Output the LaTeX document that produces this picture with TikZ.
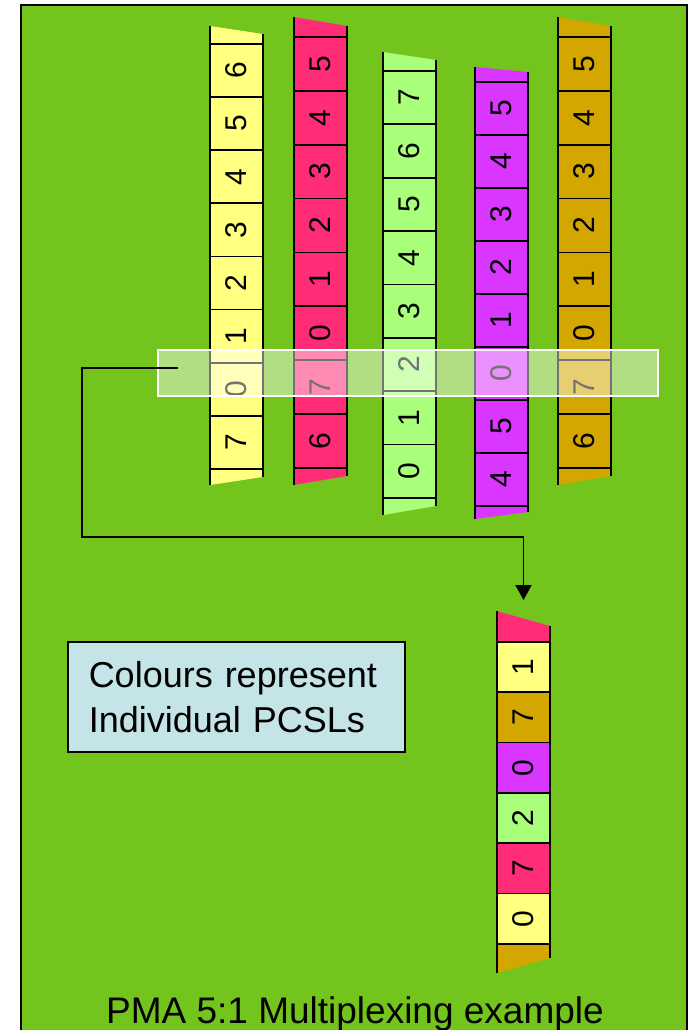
\documentclass[tikz,border=0pt]{standalone}
\usepackage{fontspec}
\usepackage{graphicx}
\setmainfont{Liberation Sans}
\usetikzlibrary{arrows.meta}

\definecolor{bg}{RGB}{116,196,30}
\definecolor{cyel}{RGB}{255,255,128}
\definecolor{cred}{RGB}{255,45,120}
\definecolor{cgrn}{RGB}{170,255,122}
\definecolor{cpur}{RGB}{217,54,255}
\definecolor{cgld}{RGB}{212,166,0}
\definecolor{note}{RGB}{196,228,232}

\tikzset{
  cell/.style={draw=black, line width=1.8pt, minimum width=53pt, inner sep=0pt,
    anchor=north, font=\fontsize{30}{32}\selectfont},
  edge/.style={draw=black, line width=1.8pt},
  band/.style={draw=white, line width=1.8pt, fill=white, fill opacity=0.45,
    anchor=north west, minimum width=500pt, minimum height=46pt, inner sep=0pt},
  notebox/.style={draw=black, line width=1.5pt, fill=note, anchor=north west,
    minimum height=110pt, text width=295pt, inner xsep=21pt, align=left,
    font=\fontsize{36}{45}\selectfont},
  conn/.style={draw=black, line width=1.8pt},
}

% a stack of numbered slots: name, left x, top y, slot height, digit/colour list
\newcommand\mkcells[5]{%
  \foreach \d/\c [count=\i] in {#5} {
    \node[cell, fill=\c, minimum height=#4pt] (#1-\i)
      at ({#2+26.5}, {#3+(\i-1)*#4}) {\rotatebox{90}{\d}};
  }}

% slanted end cap of a stack: colour, left x, edge y, left offset, right offset
\newcommand\mkcap[5]{%
  \fill[#1] (#2,#3) -- (#2,#3+#4) -- (#2+53,#3+#5) -- (#2+53,#3) -- cycle;
  \draw[edge] (#2,#3) -- (#2,#3+#4) (#2+53,#3) -- (#2+53,#3+#5);}

\begin{document}
\begin{tikzpicture}[x=1pt, y=-1pt]
\useasboundingbox (0,0) rectangle (689,1030);

% slide background
\fill[bg] (21,5) rectangle (687,1034);
\draw[black, line width=2.5pt] (21,1034) -- (21,5) -- (687,5) -- (687,1034);

% five input lanes
\mkcap{cyel}{210}{43}{-17}{-9}
\mkcap{cyel}{210}{468}{17}{9}
\mkcells{y}{210}{43}{53.125}{6/cyel,5/cyel,4/cyel,3/cyel,2/cyel,1/cyel,0/cyel,7/cyel}

\mkcap{cred}{294}{36}{-19}{-10}
\mkcap{cred}{294}{467}{18}{9}
\mkcells{r}{294}{36}{53.875}{5/cred,4/cred,3/cred,2/cred,1/cred,0/cred,7/cred,6/cred}

\mkcap{cgrn}{383}{70}{-18}{-10}
\mkcap{cgrn}{383}{497}{18}{9}
\mkcells{g}{383}{70}{53.375}{7/cgrn,6/cgrn,5/cgrn,4/cgrn,3/cgrn,2/cgrn,1/cgrn,0/cgrn}

\mkcap{cpur}{475}{81}{-14}{-9}
\mkcap{cpur}{475}{505}{14}{7}
\mkcells{p}{475}{81}{53}{5/cpur,4/cpur,3/cpur,2/cpur,1/cpur,0/cpur,5/cpur,4/cpur}

\mkcap{cgld}{558}{36}{-19}{-10}
\mkcap{cgld}{558}{467}{18}{9}
\mkcells{o}{558}{36}{53.875}{5/cgld,4/cgld,3/cgld,2/cgld,1/cgld,0/cgld,7/cgld,6/cgld}

% multiplexed output lane
\mkcap{cred}{497}{641}{-30}{-15}
\mkcap{cgld}{497}{943}{30}{15}
\mkcells{m}{497}{641}{50.33}{1/cyel,7/cgld,0/cpur,2/cgrn,7/cred,0/cyel}

% selection window across the lanes
\node[band] (band) at (157,349) {};

% path from the window to the output lane
\coordinate (tap) at (178,368);
\coordinate (bend) at (82,537);
\draw[conn, -{Triangle[length=15pt, width=16pt]}]
  (tap) -| (bend) -| ([yshift=41pt]m-1.north);

% legend
\node[notebox] (legend) at (67,641) {Colours represent\\Individual PCSLs};

% caption
\node[anchor=base, font=\fontsize{37}{40}\selectfont, inner sep=0pt] (title)
  at (355,1023) {PMA 5:1 Multiplexing example};
\end{tikzpicture}
\end{document}
